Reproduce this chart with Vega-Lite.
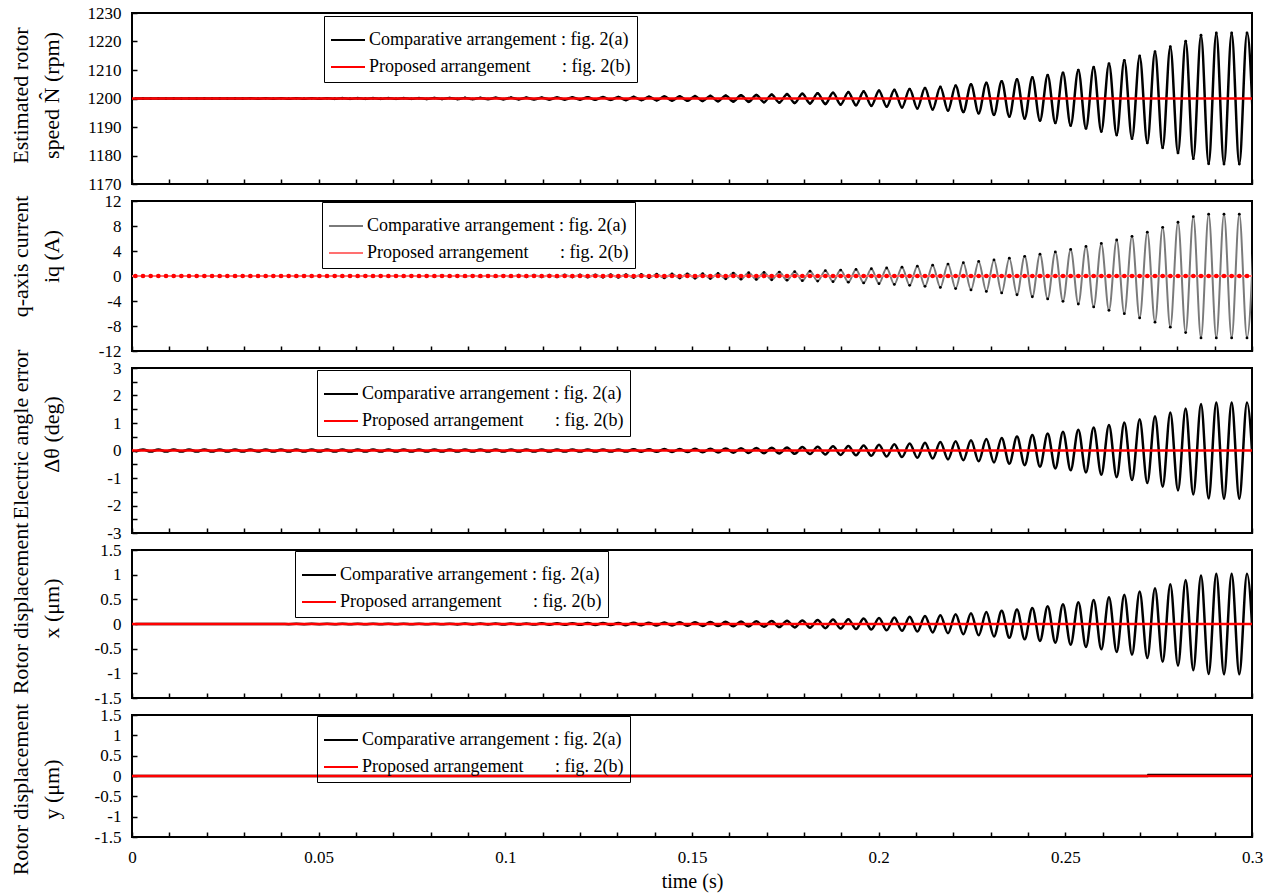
{
"$schema": "https://vega.github.io/schema/vega-lite/v6.json",
"background": "white",
"padding": {"left": 7, "top": 3, "right": 5, "bottom": 5},
"spacing": 17,
"bounds": "flush",
"config": {
  "font": "Liberation Serif",
  "view": {"stroke": "black", "strokeWidth": 2},
  "axis": {"labelFont": "Liberation Serif", "labelFontSize": 17, "labelColor": "black", "titleFont": "Liberation Serif", "titleFontSize": 22, "titleFontWeight": "normal", "titleColor": "black", "tickColor": "black", "tickSize": -5, "tickWidth": 1.5, "domain": false, "grid": false, "labelOverlap": false, "labelFlush": false, "labelBound": false},
  "axisY": {"labelPadding": 16, "titleAngle": -90, "titleBaseline": "top", "titleAlign": "center", "titleX": -122, "titleLineHeight": 31},
  "legend": {"labelFont": "Liberation Serif", "labelFontSize": 18, "labelColor": "black", "strokeColor": "black", "padding": 6, "symbolType": "stroke", "symbolSize": 1156, "symbolStrokeWidth": 2, "rowPadding": -6, "labelOffset": 3, "labelLimit": 400, "orient": "none", "title": null}
},
"datasets": {
  "comp": [
{"t":0.0009,"N":1199.98,"iq":0.01,"d":-0.04,"x":-0.001,"p":0},
{"t":0.00295,"N":1200.02,"iq":-0.01,"d":0.04,"x":0.001,"p":0},
{"t":0.00501,"N":1199.98,"iq":0.01,"d":-0.04,"x":-0.001,"p":0},
{"t":0.00706,"N":1200.02,"iq":-0.01,"d":0.04,"x":0.001,"p":0},
{"t":0.00911,"N":1199.97,"iq":0.01,"d":-0.04,"x":-0.001,"p":0},
{"t":0.01117,"N":1200.03,"iq":-0.01,"d":0.04,"x":0.001,"p":0},
{"t":0.01322,"N":1199.97,"iq":0.01,"d":-0.04,"x":-0.001,"p":0},
{"t":0.01527,"N":1200.03,"iq":-0.01,"d":0.04,"x":0.001,"p":0},
{"t":0.01733,"N":1199.97,"iq":0.01,"d":-0.04,"x":-0.001,"p":0},
{"t":0.01938,"N":1200.03,"iq":-0.01,"d":0.04,"x":0.001,"p":0},
{"t":0.02144,"N":1199.97,"iq":0.02,"d":-0.04,"x":-0.002,"p":0},
{"t":0.02349,"N":1200.04,"iq":-0.02,"d":0.04,"x":0.002,"p":0},
{"t":0.02554,"N":1199.96,"iq":0.02,"d":-0.04,"x":-0.002,"p":0},
{"t":0.0276,"N":1200.04,"iq":-0.02,"d":0.04,"x":0.002,"p":0},
{"t":0.02965,"N":1199.96,"iq":0.02,"d":-0.04,"x":-0.002,"p":0},
{"t":0.0317,"N":1200.05,"iq":-0.02,"d":0.04,"x":0.002,"p":0},
{"t":0.03376,"N":1199.95,"iq":0.02,"d":-0.04,"x":-0.002,"p":0},
{"t":0.03581,"N":1200.05,"iq":-0.02,"d":0.04,"x":0.002,"p":0},
{"t":0.03786,"N":1199.95,"iq":0.02,"d":-0.04,"x":-0.002,"p":0},
{"t":0.03992,"N":1200.06,"iq":-0.02,"d":0.04,"x":0.002,"p":0},
{"t":0.04197,"N":1199.94,"iq":0.03,"d":-0.04,"x":-0.003,"p":0},
{"t":0.04402,"N":1200.06,"iq":-0.03,"d":0.04,"x":0.003,"p":0},
{"t":0.04608,"N":1199.94,"iq":0.03,"d":-0.04,"x":-0.003,"p":0},
{"t":0.04813,"N":1200.07,"iq":-0.03,"d":0.04,"x":0.003,"p":0},
{"t":0.05018,"N":1199.93,"iq":0.03,"d":-0.04,"x":-0.003,"p":0},
{"t":0.05224,"N":1200.07,"iq":-0.03,"d":0.04,"x":0.003,"p":0},
{"t":0.05429,"N":1199.92,"iq":0.03,"d":-0.04,"x":-0.003,"p":0},
{"t":0.05634,"N":1200.08,"iq":-0.04,"d":0.04,"x":0.004,"p":0},
{"t":0.0584,"N":1199.91,"iq":0.04,"d":-0.04,"x":-0.004,"p":0},
{"t":0.06045,"N":1200.09,"iq":-0.04,"d":0.04,"x":0.004,"p":0},
{"t":0.06251,"N":1199.91,"iq":0.04,"d":-0.04,"x":-0.004,"p":0},
{"t":0.06456,"N":1200.1,"iq":-0.04,"d":0.04,"x":0.004,"p":0},
{"t":0.06661,"N":1199.9,"iq":0.05,"d":-0.04,"x":-0.005,"p":0},
{"t":0.06867,"N":1200.11,"iq":-0.05,"d":0.04,"x":0.005,"p":0},
{"t":0.07072,"N":1199.89,"iq":0.05,"d":-0.04,"x":-0.005,"p":0},
{"t":0.07277,"N":1200.12,"iq":-0.05,"d":0.04,"x":0.005,"p":0},
{"t":0.07483,"N":1199.87,"iq":0.06,"d":-0.04,"x":-0.006,"p":0},
{"t":0.07688,"N":1200.13,"iq":-0.06,"d":0.04,"x":0.006,"p":0},
{"t":0.07893,"N":1199.86,"iq":0.06,"d":-0.04,"x":-0.006,"p":0},
{"t":0.08099,"N":1200.15,"iq":-0.07,"d":0.04,"x":0.007,"p":0},
{"t":0.08304,"N":1199.84,"iq":0.07,"d":-0.04,"x":-0.007,"p":0},
{"t":0.08509,"N":1200.16,"iq":-0.07,"d":0.04,"x":0.007,"p":0},
{"t":0.08715,"N":1199.83,"iq":0.08,"d":-0.04,"x":-0.008,"p":0},
{"t":0.0892,"N":1200.18,"iq":-0.08,"d":0.04,"x":0.008,"p":0},
{"t":0.09125,"N":1199.81,"iq":0.09,"d":-0.04,"x":-0.008,"p":0},
{"t":0.09331,"N":1200.2,"iq":-0.09,"d":0.04,"x":0.009,"p":0},
{"t":0.09536,"N":1199.79,"iq":0.09,"d":-0.04,"x":-0.009,"p":0},
{"t":0.09741,"N":1200.22,"iq":-0.1,"d":0.04,"x":0.01,"p":0},
{"t":0.09947,"N":1199.77,"iq":0.1,"d":-0.04,"x":-0.01,"p":0},
{"t":0.10152,"N":1200.25,"iq":-0.11,"d":0.04,"x":0.011,"p":0},
{"t":0.10358,"N":1199.74,"iq":0.12,"d":-0.04,"x":-0.012,"p":0},
{"t":0.10563,"N":1200.27,"iq":-0.12,"d":0.04,"x":0.012,"p":0},
{"t":0.10768,"N":1199.72,"iq":0.13,"d":-0.04,"x":-0.012,"p":0},
{"t":0.10974,"N":1200.3,"iq":-0.14,"d":0.04,"x":0.013,"p":0},
{"t":0.11179,"N":1199.69,"iq":0.14,"d":-0.04,"x":-0.014,"p":0},
{"t":0.11384,"N":1200.33,"iq":-0.15,"d":0.04,"x":0.015,"p":0},
{"t":0.1159,"N":1199.65,"iq":0.16,"d":-0.04,"x":-0.016,"p":0},
{"t":0.11795,"N":1200.36,"iq":-0.16,"d":0.04,"x":0.016,"p":0},
{"t":0.12,"N":1199.62,"iq":0.17,"d":-0.04,"x":-0.017,"p":0},
{"t":0.12206,"N":1200.4,"iq":-0.18,"d":0.04,"x":0.018,"p":0},
{"t":0.12411,"N":1199.58,"iq":0.19,"d":-0.04,"x":-0.019,"p":0},
{"t":0.12616,"N":1200.45,"iq":-0.2,"d":0.04,"x":0.02,"p":0},
{"t":0.12822,"N":1199.53,"iq":0.21,"d":-0.04,"x":-0.021,"p":0},
{"t":0.13027,"N":1200.49,"iq":-0.22,"d":0.04,"x":0.022,"p":0},
{"t":0.13232,"N":1199.48,"iq":0.23,"d":-0.04,"x":-0.023,"p":0},
{"t":0.13438,"N":1200.54,"iq":-0.24,"d":0.041,"x":0.024,"p":0},
{"t":0.13643,"N":1199.43,"iq":0.26,"d":-0.043,"x":-0.025,"p":0},
{"t":0.13848,"N":1200.6,"iq":-0.27,"d":0.046,"x":0.027,"p":0},
{"t":0.14054,"N":1199.37,"iq":0.28,"d":-0.048,"x":-0.028,"p":0},
{"t":0.14259,"N":1200.67,"iq":-0.3,"d":0.051,"x":0.03,"p":0},
{"t":0.14465,"N":1199.3,"iq":0.32,"d":-0.053,"x":-0.031,"p":0},
{"t":0.1467,"N":1200.74,"iq":-0.33,"d":0.056,"x":0.033,"p":0},
{"t":0.14875,"N":1199.23,"iq":0.35,"d":-0.059,"x":-0.034,"p":0},
{"t":0.15081,"N":1200.81,"iq":-0.36,"d":0.062,"x":0.036,"p":0},
{"t":0.15286,"N":1199.15,"iq":0.38,"d":-0.065,"x":-0.038,"p":0},
{"t":0.15491,"N":1200.9,"iq":-0.41,"d":0.068,"x":0.04,"p":0},
{"t":0.15697,"N":1199.06,"iq":0.42,"d":-0.071,"x":-0.042,"p":0},
{"t":0.15902,"N":1200.99,"iq":-0.45,"d":0.075,"x":0.044,"p":0},
{"t":0.16107,"N":1198.96,"iq":0.47,"d":-0.079,"x":-0.046,"p":0},
{"t":0.16313,"N":1201.1,"iq":-0.5,"d":0.084,"x":0.049,"p":0},
{"t":0.16518,"N":1198.85,"iq":0.52,"d":-0.087,"x":-0.051,"p":0},
{"t":0.16723,"N":1201.21,"iq":-0.54,"d":0.092,"x":0.054,"p":0},
{"t":0.16929,"N":1198.72,"iq":0.58,"d":-0.097,"x":-0.057,"p":0},
{"t":0.17134,"N":1201.34,"iq":-0.6,"d":0.102,"x":0.059,"p":0},
{"t":0.17339,"N":1198.59,"iq":0.63,"d":-0.107,"x":-0.062,"p":0},
{"t":0.17545,"N":1201.48,"iq":-0.67,"d":0.112,"x":0.066,"p":0},
{"t":0.1775,"N":1198.44,"iq":0.7,"d":-0.119,"x":-0.069,"p":0},
{"t":0.17955,"N":1201.64,"iq":-0.74,"d":0.125,"x":0.073,"p":0},
{"t":0.18161,"N":1198.28,"iq":0.77,"d":-0.131,"x":-0.076,"p":0},
{"t":0.18366,"N":1201.81,"iq":-0.81,"d":0.138,"x":0.08,"p":0},
{"t":0.18572,"N":1198.09,"iq":0.86,"d":-0.145,"x":-0.085,"p":0},
{"t":0.18777,"N":1202,"iq":-0.9,"d":0.152,"x":0.089,"p":0},
{"t":0.18982,"N":1197.89,"iq":0.95,"d":-0.16,"x":-0.093,"p":0},
{"t":0.19188,"N":1202.21,"iq":-0.99,"d":0.168,"x":0.098,"p":0},
{"t":0.19393,"N":1197.67,"iq":1.05,"d":-0.177,"x":-0.103,"p":0},
{"t":0.19598,"N":1202.45,"iq":-1.1,"d":0.186,"x":0.109,"p":0},
{"t":0.19804,"N":1197.43,"iq":1.16,"d":-0.195,"x":-0.114,"p":0},
{"t":0.20009,"N":1202.71,"iq":-1.22,"d":0.206,"x":0.12,"p":0},
{"t":0.20214,"N":1197.15,"iq":1.28,"d":-0.217,"x":-0.126,"p":0},
{"t":0.2042,"N":1202.99,"iq":-1.35,"d":0.227,"x":0.132,"p":0},
{"t":0.20625,"N":1196.86,"iq":1.41,"d":-0.239,"x":-0.139,"p":0},
{"t":0.2083,"N":1203.31,"iq":-1.49,"d":0.252,"x":0.147,"p":0},
{"t":0.21036,"N":1196.52,"iq":1.57,"d":-0.264,"x":-0.154,"p":0},
{"t":0.21241,"N":1203.66,"iq":-1.65,"d":0.278,"x":0.162,"p":0},
{"t":0.21446,"N":1196.16,"iq":1.73,"d":-0.292,"x":-0.17,"p":0},
{"t":0.21652,"N":1204.04,"iq":-1.82,"d":0.307,"x":0.179,"p":0},
{"t":0.21857,"N":1195.75,"iq":1.91,"d":-0.323,"x":-0.188,"p":0},
{"t":0.22062,"N":1204.47,"iq":-2.01,"d":0.34,"x":0.198,"p":0},
{"t":0.22268,"N":1195.3,"iq":2.12,"d":-0.357,"x":-0.208,"p":0},
{"t":0.22473,"N":1204.94,"iq":-2.22,"d":0.375,"x":0.219,"p":0},
{"t":0.22679,"N":1194.81,"iq":2.34,"d":-0.394,"x":-0.23,"p":0},
{"t":0.22884,"N":1205.46,"iq":-2.46,"d":0.415,"x":0.242,"p":0},
{"t":0.23089,"N":1194.26,"iq":2.58,"d":-0.436,"x":-0.254,"p":0},
{"t":0.23295,"N":1206.03,"iq":-2.71,"d":0.458,"x":0.267,"p":0},
{"t":0.235,"N":1193.66,"iq":2.85,"d":-0.482,"x":-0.281,"p":0},
{"t":0.23705,"N":1206.67,"iq":-3,"d":0.507,"x":0.295,"p":0},
{"t":0.23911,"N":1192.99,"iq":3.15,"d":-0.533,"x":-0.311,"p":0},
{"t":0.24116,"N":1207.37,"iq":-3.32,"d":0.56,"x":0.326,"p":0},
{"t":0.24321,"N":1192.25,"iq":3.49,"d":-0.589,"x":-0.343,"p":0},
{"t":0.24527,"N":1208.15,"iq":-3.67,"d":0.619,"x":0.361,"p":0},
{"t":0.24732,"N":1191.43,"iq":3.86,"d":-0.651,"x":-0.38,"p":0},
{"t":0.24937,"N":1209,"iq":-4.05,"d":0.684,"x":0.399,"p":0},
{"t":0.25143,"N":1190.53,"iq":4.26,"d":-0.72,"x":-0.42,"p":0},
{"t":0.25348,"N":1209.96,"iq":-4.48,"d":0.757,"x":0.441,"p":0},
{"t":0.25553,"N":1189.5,"iq":4.73,"d":-0.798,"x":-0.465,"p":0},
{"t":0.25759,"N":1211,"iq":-4.95,"d":0.836,"x":0.487,"p":0},
{"t":0.25964,"N":1188.4,"iq":5.22,"d":-0.882,"x":-0.514,"p":0},
{"t":0.26169,"N":1212.2,"iq":-5.49,"d":0.927,"x":0.54,"p":0},
{"t":0.26375,"N":1187.2,"iq":5.76,"d":-0.973,"x":-0.567,"p":0},
{"t":0.2658,"N":1213.4,"iq":-6.03,"d":1.018,"x":0.594,"p":0},
{"t":0.26786,"N":1185.9,"iq":6.35,"d":-1.072,"x":-0.625,"p":0},
{"t":0.26991,"N":1214.9,"iq":-6.71,"d":1.132,"x":0.66,"p":0},
{"t":0.27196,"N":1184.4,"iq":7.02,"d":-1.186,"x":-0.691,"p":0},
{"t":0.27402,"N":1216.4,"iq":-7.38,"d":1.246,"x":0.727,"p":0},
{"t":0.27607,"N":1182.7,"iq":7.79,"d":-1.315,"x":-0.766,"p":0},
{"t":0.27812,"N":1218.2,"iq":-8.19,"d":1.383,"x":0.806,"p":0},
{"t":0.28018,"N":1180.9,"iq":8.6,"d":-1.452,"x":-0.846,"p":0},
{"t":0.28223,"N":1220.1,"iq":-9.05,"d":1.528,"x":0.89,"p":0},
{"t":0.28428,"N":1178.9,"iq":9.5,"d":-1.604,"x":-0.935,"p":0},
{"t":0.28634,"N":1222.2,"iq":-9.9,"d":1.687,"x":0.983,"p":0},
{"t":0.28839,"N":1177.1,"iq":9.9,"d":-1.74,"x":-1.015,"p":0},
{"t":0.29044,"N":1223,"iq":-9.9,"d":1.75,"x":1.02,"p":0},
{"t":0.2925,"N":1177,"iq":9.9,"d":-1.75,"x":-1.02,"p":0},
{"t":0.29455,"N":1223,"iq":-9.9,"d":1.75,"x":1.02,"p":0},
{"t":0.2966,"N":1177,"iq":9.9,"d":-1.75,"x":-1.02,"p":0},
{"t":0.29866,"N":1223,"iq":-9.9,"d":1.75,"x":1.02,"p":0},
{"t":0.30071,"N":1177,"iq":9.9,"d":-1.75,"x":-1.02,"p":0}
  ],
  "prop": [
    {"t": 0, "N": 1200, "v": 0},
    {"t": 0.3, "N": 1200, "v": 0}
  ],
  "ycomp": [
    {"t": 0, "y": 0},
    {"t": 0.272, "y": 0},
    {"t": 0.2722, "y": 0.025},
    {"t": 0.3, "y": 0.025}
  ]
},
"resolve": {"scale": {"color": "independent"}, "legend": {"color": "independent"}},
"vconcat": [
  {
    "width": 1120, "height": 171,
    "layer": [
      {"data": {"name": "comp"}, "mark": {"type": "line", "interpolate": "monotone", "strokeWidth": 2.5, "clip": true},
       "encoding": {
         "x": {"field": "t", "type": "quantitative", "scale": {"domain": [0, 0.3], "nice": false}, "axis": {"title": null, "labels": false, "tickCount": 100, "values": [0,0.01,0.02,0.03,0.04,0.05,0.06,0.07,0.08,0.09,0.1,0.11,0.12,0.13,0.14,0.15,0.16,0.17,0.18,0.19,0.2,0.21,0.22,0.23,0.24,0.25,0.26,0.27,0.28,0.29,0.3]}},
         "y": {"field": "N", "type": "quantitative", "scale": {"domain": [1170, 1230], "nice": false}, "axis": {"title": ["Estimated rotor", "speed N\u0302 (rpm)"], "titleY": 82, "tickCount": 100, "values": [1170,1180,1190,1200,1210,1220,1230], "labelExpr": "'' + datum.value"}},
         "color": {"datum": "Comparative arrangement : fig. 2(a)", "scale": {"domain": ["Comparative arrangement : fig. 2(a)", "Proposed arrangement\u00a0\u00a0\u00a0\u00a0\u00a0\u00a0 : fig. 2(b)"], "range": ["#000000", "#ff0000"]}, "legend": {"legendX": 192, "legendY": 3}}
       }},
      {"data": {"name": "comp"}, "mark": {"type": "point", "filled": true, "size": 8, "color": "black", "opacity": 1, "clip": true},
       "encoding": {"x": {"field": "t", "type": "quantitative"}, "y": {"field": "N", "type": "quantitative"}}},
      {"data": {"name": "prop"}, "mark": {"type": "line", "strokeWidth": 2.5},
       "encoding": {"x": {"field": "t", "type": "quantitative"}, "y": {"field": "N", "type": "quantitative"}, "color": {"datum": "Proposed arrangement\u00a0\u00a0\u00a0\u00a0\u00a0\u00a0 : fig. 2(b)"}}}
    ]
  },
  {
    "width": 1120, "height": 150,
    "layer": [
      {"data": {"name": "comp"}, "mark": {"type": "line", "interpolate": "monotone", "strokeWidth": 2, "clip": true},
       "encoding": {
         "x": {"field": "t", "type": "quantitative", "scale": {"domain": [0, 0.3], "nice": false}, "axis": {"title": null, "labels": false, "tickCount": 100, "values": [0,0.01,0.02,0.03,0.04,0.05,0.06,0.07,0.08,0.09,0.1,0.11,0.12,0.13,0.14,0.15,0.16,0.17,0.18,0.19,0.2,0.21,0.22,0.23,0.24,0.25,0.26,0.27,0.28,0.29,0.3]}},
         "y": {"field": "iq", "type": "quantitative", "scale": {"domain": [-12, 12], "nice": false}, "axis": {"title": ["q-axis current", "iq (A)"], "titleY": 55, "tickCount": 100, "values": [-12,-8,-4,0,4,8,12], "labelExpr": "'' + datum.value"}},
         "color": {"datum": "Comparative arrangement : fig. 2(a)", "scale": {"domain": ["Comparative arrangement : fig. 2(a)", "Proposed arrangement\u00a0\u00a0\u00a0\u00a0\u00a0\u00a0 : fig. 2(b)"], "range": ["#7a7a7a", "#ff7070"]}, "legend": {"legendX": 190, "legendY": 1}}
       }},
      {"data": {"name": "comp"}, "mark": {"type": "point", "filled": true, "size": 8, "color": "black", "opacity": 1, "clip": true},
       "encoding": {"x": {"field": "t", "type": "quantitative"}, "y": {"field": "iq", "type": "quantitative"}}},
      {"data": {"name": "prop"}, "mark": {"type": "line", "strokeWidth": 2},
       "encoding": {"x": {"field": "t", "type": "quantitative"}, "y": {"field": "v", "type": "quantitative"}, "color": {"datum": "Proposed arrangement\u00a0\u00a0\u00a0\u00a0\u00a0\u00a0 : fig. 2(b)"}}},
      {"data": {"name": "comp"}, "mark": {"type": "point", "filled": true, "size": 22, "color": "#ff0000", "opacity": 1, "clip": true},
       "encoding": {"x": {"field": "t", "type": "quantitative"}, "y": {"field": "p", "type": "quantitative"}}}
    ]
  },
  {
    "width": 1120, "height": 165,
    "layer": [
      {"data": {"name": "comp"}, "mark": {"type": "line", "interpolate": "monotone", "strokeWidth": 2.5, "clip": true},
       "encoding": {
         "x": {"field": "t", "type": "quantitative", "scale": {"domain": [0, 0.3], "nice": false}, "axis": {"title": null, "labels": false, "tickCount": 100, "values": [0,0.01,0.02,0.03,0.04,0.05,0.06,0.07,0.08,0.09,0.1,0.11,0.12,0.13,0.14,0.15,0.16,0.17,0.18,0.19,0.2,0.21,0.22,0.23,0.24,0.25,0.26,0.27,0.28,0.29,0.3]}},
         "y": {"field": "d", "type": "quantitative", "scale": {"domain": [-3, 3], "nice": false}, "axis": {"title": ["Electric angle error", "\u0394\u03b8 (deg)"], "titleY": 66, "tickCount": 100, "values": [-3,-2.5,-2,-1.5,-1,-0.5,0,0.5,1,1.5,2,2.5,3], "labelExpr": "datum.value % 1 == 0 ? '' + datum.value : ''"}},
         "color": {"datum": "Comparative arrangement : fig. 2(a)", "scale": {"domain": ["Comparative arrangement : fig. 2(a)", "Proposed arrangement\u00a0\u00a0\u00a0\u00a0\u00a0\u00a0 : fig. 2(b)"], "range": ["#000000", "#ff0000"]}, "legend": {"legendX": 185, "legendY": 2}}
       }},
      {"data": {"name": "prop"}, "mark": {"type": "line", "strokeWidth": 2.5},
       "encoding": {"x": {"field": "t", "type": "quantitative"}, "y": {"field": "v", "type": "quantitative"}, "color": {"datum": "Proposed arrangement\u00a0\u00a0\u00a0\u00a0\u00a0\u00a0 : fig. 2(b)"}}}
    ]
  },
  {
    "width": 1120, "height": 148,
    "layer": [
      {"data": {"name": "comp"}, "mark": {"type": "line", "interpolate": "monotone", "strokeWidth": 2.5, "clip": true},
       "encoding": {
         "x": {"field": "t", "type": "quantitative", "scale": {"domain": [0, 0.3], "nice": false}, "axis": {"title": null, "labels": false, "tickCount": 100, "values": [0,0.01,0.02,0.03,0.04,0.05,0.06,0.07,0.08,0.09,0.1,0.11,0.12,0.13,0.14,0.15,0.16,0.17,0.18,0.19,0.2,0.21,0.22,0.23,0.24,0.25,0.26,0.27,0.28,0.29,0.3]}},
         "y": {"field": "x", "type": "quantitative", "scale": {"domain": [-1.5, 1.5], "nice": false}, "axis": {"title": ["Rotor displacement", "x (\u03bcm)"], "titleY": 58, "tickCount": 100, "values": [-1.5,-1,-0.5,0,0.5,1,1.5], "labelExpr": "'' + datum.value"}},
         "color": {"datum": "Comparative arrangement : fig. 2(a)", "scale": {"domain": ["Comparative arrangement : fig. 2(a)", "Proposed arrangement\u00a0\u00a0\u00a0\u00a0\u00a0\u00a0 : fig. 2(b)"], "range": ["#000000", "#ff0000"]}, "legend": {"legendX": 163, "legendY": 1}}
       }},
      {"data": {"name": "prop"}, "mark": {"type": "line", "strokeWidth": 2.5},
       "encoding": {"x": {"field": "t", "type": "quantitative"}, "y": {"field": "v", "type": "quantitative"}, "color": {"datum": "Proposed arrangement\u00a0\u00a0\u00a0\u00a0\u00a0\u00a0 : fig. 2(b)"}}}
    ]
  },
  {
    "width": 1120, "height": 122,
    "layer": [
      {"data": {"name": "ycomp"}, "mark": {"type": "line", "strokeWidth": 2.5, "clip": true},
       "encoding": {
         "x": {"field": "t", "type": "quantitative", "scale": {"domain": [0, 0.3], "nice": false}, "axis": {"title": "time (s)", "titleFontSize": 20, "titlePadding": 6, "labelPadding": 17, "tickCount": 100, "values": [0,0.01,0.02,0.03,0.04,0.05,0.06,0.07,0.08,0.09,0.1,0.11,0.12,0.13,0.14,0.15,0.16,0.17,0.18,0.19,0.2,0.21,0.22,0.23,0.24,0.25,0.26,0.27,0.28,0.29,0.3], "labelExpr": "abs(datum.value * 20 - round(datum.value * 20)) < 0.001 ? '' + datum.value : ''"}},
         "y": {"field": "y", "type": "quantitative", "scale": {"domain": [-1.5, 1.5], "nice": false}, "axis": {"title": ["Rotor displacement", "y (\u03bcm)"], "titleY": 74, "tickCount": 100, "values": [-1.5,-1,-0.5,0,0.5,1,1.5], "labelExpr": "'' + datum.value"}},
         "color": {"datum": "Comparative arrangement : fig. 2(a)", "scale": {"domain": ["Comparative arrangement : fig. 2(a)", "Proposed arrangement\u00a0\u00a0\u00a0\u00a0\u00a0\u00a0 : fig. 2(b)"], "range": ["#000000", "#ff0000"]}, "legend": {"legendX": 185, "legendY": 1}}
       }},
      {"data": {"name": "prop"}, "mark": {"type": "line", "strokeWidth": 2.5},
       "encoding": {"x": {"field": "t", "type": "quantitative"}, "y": {"field": "v", "type": "quantitative"}, "color": {"datum": "Proposed arrangement\u00a0\u00a0\u00a0\u00a0\u00a0\u00a0 : fig. 2(b)"}}}
    ]
  }
]
}
